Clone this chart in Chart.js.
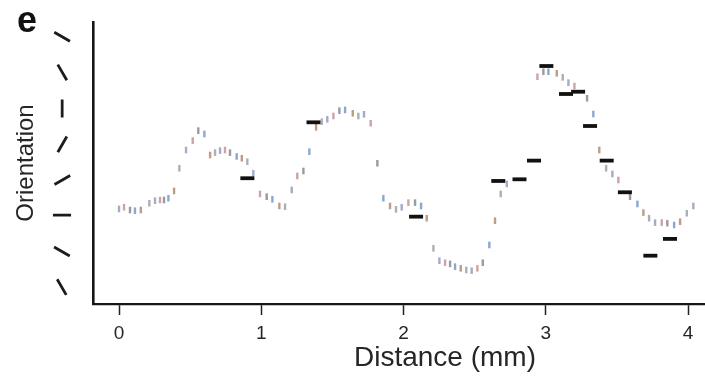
<!DOCTYPE html>
<html>
<head>
<meta charset="utf-8">
<script src="https://cdn.jsdelivr.net/npm/chart.js@4.4.1/dist/chart.umd.min.js"></script>
<style>
  html, body { margin: 0; padding: 0; background: #ffffff; }
  #wrap { width: 705px; height: 376px; position: relative; }
</style>
</head>
<body>
<div id="wrap"><canvas id="c"></canvas></div>
<script>
// ---- data ----
const panelLabel = "e";
const xTitle = "Distance (mm)";
const yTitle = "Orientation";
const xTicks = [0, 1, 2, 3, 4];
// orientation tick values (degrees); each label is drawn as a bar at that orientation
const yTicks = [150, 120, 90, 60, 30, 0, -30, -60];

// fine-scale measurements (small coloured marks)
const fineX = [0.00,0.035,0.077,0.112,0.153,0.213,0.253,0.288,0.316,0.347,0.387,0.424,0.471,0.518,0.557,0.600,0.640,0.675,0.710,0.745,0.780,0.827,0.863,0.902,0.944,0.991,1.038,1.078,1.127,1.167,1.214,1.253,1.296,1.338,1.385,1.425,1.464,1.507,1.549,1.589,1.643,1.682,1.722,1.769,1.816,1.858,1.905,1.947,1.987,2.034,2.081,2.123,2.163,2.210,2.252,2.292,2.327,2.362,2.402,2.441,2.479,2.519,2.557,2.603,2.643,2.683,2.726,2.941,2.983,3.018,3.077,3.119,3.159,3.201,3.290,3.334,3.376,3.424,3.468,3.510,3.592,3.644,3.686,3.726,3.768,3.815,3.854,3.902,3.944,3.991,4.037];
const fineY = [5.5,6.9,4.6,4.0,4.6,10.3,12.4,13.0,13.0,14.5,20.6,39.7,55.0,62.9,71.3,68.5,50.8,52.8,54.5,55.0,52.8,49.6,48.1,45.2,35.5,18.1,15.8,13.6,8.0,7.4,21.4,33.2,37.4,53.6,74.1,78.8,80.8,83.6,88.1,88.7,85.9,83.6,85.0,77.5,43.9,14.5,8.0,5.2,6.9,10.8,10.8,8.0,-2.3,-27.6,-38.0,-39.7,-40.7,-43.0,-44.4,-45.8,-46.4,-44.4,-39.7,-24.8,-4.4,18.1,26.5,116.6,120.8,120.8,119.5,116.1,111.6,108.8,98.5,85.3,55.0,39.7,34.9,29.8,15.8,9.7,2.4,-2.3,-6.0,-6.0,-6.5,-8.0,-5.2,1.9,8.0];

// coarse-scale measurements (black bars)
const coarseX = [0.902,1.367,2.088,2.666,2.815,2.917,3.004,3.142,3.227,3.311,3.428,3.556,3.735,3.873];
const coarseY = [31.3,78.3,-1.0,29.0,30.4,46.1,125.6,102.1,104.0,75.2,46.1,19.5,-33.8,-19.7];

// ---- styling ----
const markPalette = ['#a3abc6','#cda3a3','#9a9aa2','#88a8cf','#bf9c86','#aab0b8'];
const TEXT = '#262626';
const AXIS = '#161616';

const finePts = fineX.map((x, i) => ({ x: x, y: fineY[i] }));
const coarsePts = coarseX.map((x, i) => ({ x: x, y: coarseY[i] }));
const fineColors = fineX.map((_, i) => markPalette[i % markPalette.length]);

const extraText = {
  id: 'extraText',
  afterDraw(chart) {
    const ctx = chart.ctx;
    const ys = chart.scales.y;
    ctx.save();
    // panel letter
    ctx.fillStyle = '#111';
    ctx.font = 'bold 36px "Liberation Sans", Arial, sans-serif';
    ctx.textAlign = 'left';
    ctx.textBaseline = 'alphabetic';
    ctx.fillText(panelLabel, 17, 32);
    // x axis title
    ctx.fillStyle = TEXT;
    ctx.font = '28px "Liberation Sans", Arial, sans-serif';
    ctx.textAlign = 'center';
    ctx.fillText(xTitle, 445, 366);
    // y tick labels: orientation bars
    ctx.font = 'bold 17px "Liberation Sans", Arial, sans-serif';
    ctx.textAlign = 'left';
    ctx.textBaseline = 'alphabetic';
    const m = ctx.measureText('\u2014');
    const cx = (m.actualBoundingBoxRight - m.actualBoundingBoxLeft) / 2;
    const cy = (m.actualBoundingBoxAscent - m.actualBoundingBoxDescent) / 2;
    ctx.fillStyle = '#1a1a1a';
    ctx.strokeStyle = '#1a1a1a';
    ctx.lineWidth = 1.1;
    yTicks.forEach(v => {
      const py = ys.getPixelForValue(v);
      ctx.save();
      ctx.translate(62, py);
      ctx.rotate(-v * Math.PI / 180);
      ctx.fillText('\u2014', -cx, cy);
      ctx.strokeText('\u2014', -cx, cy);
      ctx.restore();
    });
    ctx.restore();
  }
};

new Chart(document.getElementById('c'), {
  type: 'scatter',
  data: {
    datasets: [
      {
        label: 'Coarse',
        data: coarsePts,
        pointStyle: 'line',
        pointRadius: 7,
        pointHoverRadius: 7,
        pointBorderWidth: 3.8,
        borderColor: '#111111',
        backgroundColor: '#111111'
      },
      {
        label: 'Fine',
        data: finePts,
        pointStyle: 'line',
        pointRotation: 90,
        pointRadius: 3.3,
        pointHoverRadius: 3.3,
        pointBorderWidth: 2.4,
        borderColor: fineColors,
        backgroundColor: fineColors
      }
    ]
  },
  options: {
    responsive: true,
    maintainAspectRatio: false,
    animation: false,
    events: [],
    layout: { autoPadding: false, padding: { top: 22, right: 1, bottom: 0, left: 0 } },
    plugins: {
      legend: { display: false },
      tooltip: { enabled: false },
      title: { display: false }
    },
    scales: {
      x: {
        type: 'linear',
        min: -0.183,
        max: 4.112,
        afterBuildTicks: (s) => { s.ticks = xTicks.map(v => ({ value: v })); },
        afterFit: (s) => { s.height = 72; s.paddingLeft = 0; s.paddingRight = 0; },
        grid: {
          display: true,
          drawOnChartArea: false,
          drawTicks: true,
          tickLength: 11,
          tickColor: '#222',
          tickWidth: 1.5
        },
        border: { display: true, color: AXIS, width: 2.2 },
        ticks: {
          color: TEXT,
          padding: 7,
          maxRotation: 0,
          font: { family: '"Liberation Sans", Arial, sans-serif', size: 19 },
          callback: (v) => String(v)
        },
        title: { display: false, text: xTitle }
      },
      y: {
        type: 'linear',
        min: -74.4,
        max: 162.6,
        afterBuildTicks: (s) => { s.ticks = yTicks.map(v => ({ value: v })); },
        afterFit: (s) => { s.width = 93; s.paddingTop = 0; s.paddingBottom = 0; },
        grid: { display: false, drawTicks: false },
        border: { display: true, color: AXIS, width: 2.6 },
        ticks: { display: false },
        title: {
          display: true,
          text: yTitle,
          color: TEXT,
          padding: { top: 12, bottom: 0 },
          font: { family: '"Liberation Sans", Arial, sans-serif', size: 24 }
        }
      }
    }
  },
  plugins: [extraText]
});
</script>
</body>
</html>
